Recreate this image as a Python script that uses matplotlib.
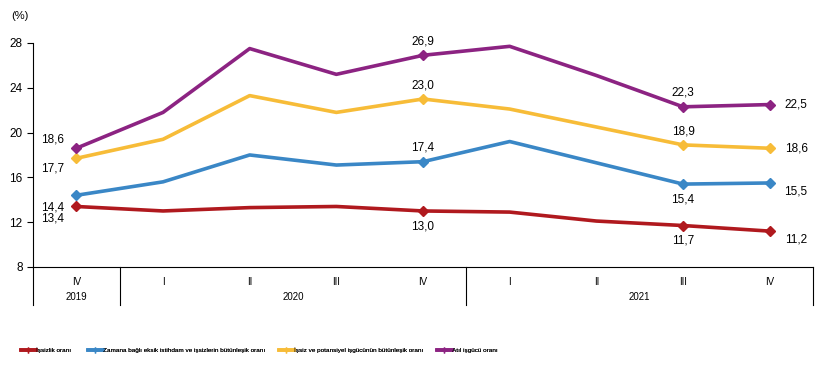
import matplotlib.pyplot as plt
from matplotlib.lines import Line2D
import matplotlib.transforms as mtransforms

plt.rcParams["font.family"] = ["Liberation Sans", "DejaVu Sans"]

quarters = ["IV", "I", "II", "III", "IV", "I", "II", "III", "IV"]
years = ["2019", "2020", "2021"]
year_spans = [(0, 0), (1, 4), (5, 8)]

issizlik = [13.4, 13.0, 13.3, 13.4, 13.0, 12.9, 12.1, 11.7, 11.2]
zamana_bagli = [14.4, 15.6, 18.0, 17.1, 17.4, 19.2, 17.3, 15.4, 15.5]
potansiyel = [17.7, 19.4, 23.3, 21.8, 23.0, 22.1, 20.5, 18.9, 18.6]
atil = [18.6, 21.8, 27.5, 25.2, 26.9, 27.7, 25.1, 22.3, 22.5]

names = ["İşsizlik oranı",
         "Zamana bağlı eksik istihdam ve işsizlerin bütünleşik oranı",
         "İşsiz ve potansiyel işgücünün bütünleşik oranı",
         "Atıl işgücü oranı"]
colors = ["#B0191E", "#3A87C6", "#F7BC38", "#8C2382"]
series = [issizlik, zamana_bagli, potansiyel, atil]
marked = [0, 4, 7, 8]

# label offsets (points) per series at marked positions
offsets = {
    0: [(-17, -9), (0, -11), (0, -11), (19, -6)],
    1: [(-17, -9), (0, 10), (0, -11), (19, -6)],
    2: [(-17, -7), (0, 10), (0, 10), (19, 0)],
    3: [(-17, 6), (0, 10), (0, 10), (19, 0)],
}

fig = plt.figure(figsize=(8.36, 3.76), dpi=100)
ax = fig.add_axes([0.0395, 0.29, 0.933, 0.5957])

x = list(range(len(quarters)))
for i, (vals, col) in enumerate(zip(series, colors)):
    ax.plot(x, vals, color=col, lw=2.6, zorder=3)
    ax.plot([x[j] for j in marked], [vals[j] for j in marked], ls="none",
            marker="D", ms=5, color=col, zorder=4)
    for j, off in zip(marked, offsets[i]):
        ax.annotate(f"{vals[j]:.1f}".replace(".", ","), (x[j], vals[j]),
                    xytext=off, textcoords="offset points",
                    ha="center", va="center", fontsize=8.5)

ax.set_xlim(-0.5, 8.5)
ax.set_ylim(8, 28)
ax.set_yticks([8, 12, 16, 20, 24, 28])
ax.tick_params(axis="y", labelsize=8.5, length=4, width=0.8)
ax.set_xticks(x)
ax.set_xticklabels(quarters, fontsize=7)
ax.tick_params(axis="x", length=0, pad=7)
for s in ["top", "right"]:
    ax.spines[s].set_visible(False)
ax.spines["left"].set_linewidth(0.8)
ax.spines["bottom"].set_linewidth(0.8)

trans = mtransforms.blended_transform_factory(ax.transData, ax.transAxes)
for sx in [-0.5, 0.5, 4.5, 8.5]:
    ax.plot([sx, sx], [0, -0.17], color="black", lw=0.8, transform=trans,
            clip_on=False)
for yr, (a, b) in zip(years, year_spans):
    ax.text((a + b) / 2, -0.135, yr, transform=trans, ha="center",
            va="center", fontsize=7)

ax.text(-0.028, 1.12, "(%)", transform=ax.transAxes, fontsize=8,
        ha="left", va="center")

# legend entries placed one by one, like the reference
legend_x = [21, 88, 279, 437]
for c, name, lx in zip(colors, names, legend_x):
    h = Line2D([0], [0], color=c, lw=2.6, marker="+", ms=4)
    leg = fig.legend([h], [name], loc="center left",
                     bbox_to_anchor=(lx / 836, 0.069), frameon=False,
                     fontsize=4.6, handlelength=2.3, handletextpad=0.1,
                     borderpad=0, borderaxespad=0)
    fig.add_artist(leg)

fig.savefig("out.png", dpi=100)
